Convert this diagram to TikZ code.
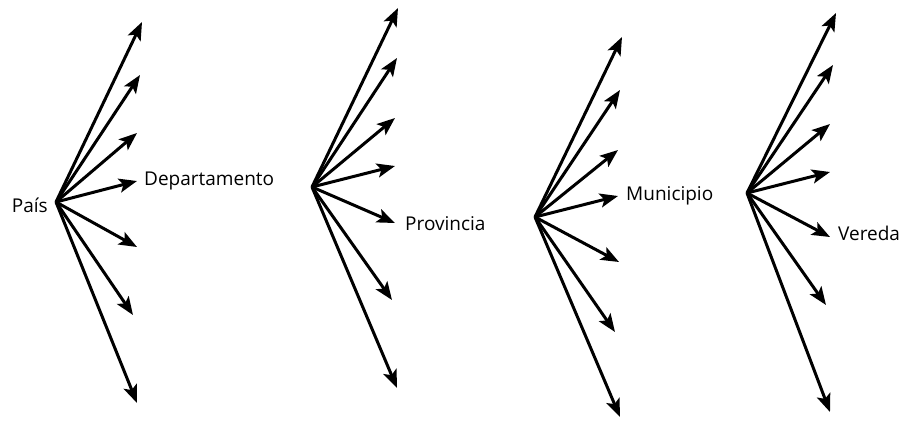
\documentclass[tikz,border=0pt]{standalone}
\usepackage{fontspec}
\setmainfont{Open Sans}
\usetikzlibrary{arrows.meta}
\begin{document}
\begin{tikzpicture}[x=1pt,y=-1pt,
  ray/.style={line width=3pt,-{Stealth[length=18pt,width=14pt,inset=4pt]}},
  lbl/.style={font=\fontsize{19}{22}\selectfont,inner sep=0pt}]
\useasboundingbox (0,0) rectangle (903,421);
% fan roots
\coordinate (o1) at (56,202);
\coordinate (o2) at (312,187);
\coordinate (o3) at (535,217);
\coordinate (o4) at (747,193);
% ray tips for each fan
\foreach \i/\x/\y in {1/142/22,2/140/75,3/137/133,4/137/181,5/137/247,6/133/315,7/137/403}
  {\coordinate (a\i) at (\x,\y); \draw[ray] (o1) -- (a\i);}
\foreach \i/\x/\y in {1/398/8,2/397/58,3/395/118,4/395/166,5/395/223,6/392/300,7/397/388}
  {\coordinate (b\i) at (\x,\y); \draw[ray] (o2) -- (b\i);}
\foreach \i/\x/\y in {1/622/37,2/620/90,3/618/150,4/618/196,5/619/262,6/615/332,7/620/417}
  {\coordinate (c\i) at (\x,\y); \draw[ray] (o3) -- (c\i);}
\foreach \i/\x/\y in {1/836/13,2/833/65,3/830/124,4/830/172,5/830/237,6/826/305,7/830/412}
  {\coordinate (d\i) at (\x,\y); \draw[ray] (o4) -- (d\i);}
% labels
\node[lbl,anchor=east] (pais) at (48,205) {País};
\node[lbl,anchor=west] (dep) at (144,181) {Departamento};
\node[lbl,anchor=west] (prov) at (405,224) {Provincia};
\node[lbl,anchor=west] (mun) at (626,196) {Municipio};
\node[lbl,anchor=west] (ver) at (838,233) {Vereda};
\end{tikzpicture}
\end{document}
